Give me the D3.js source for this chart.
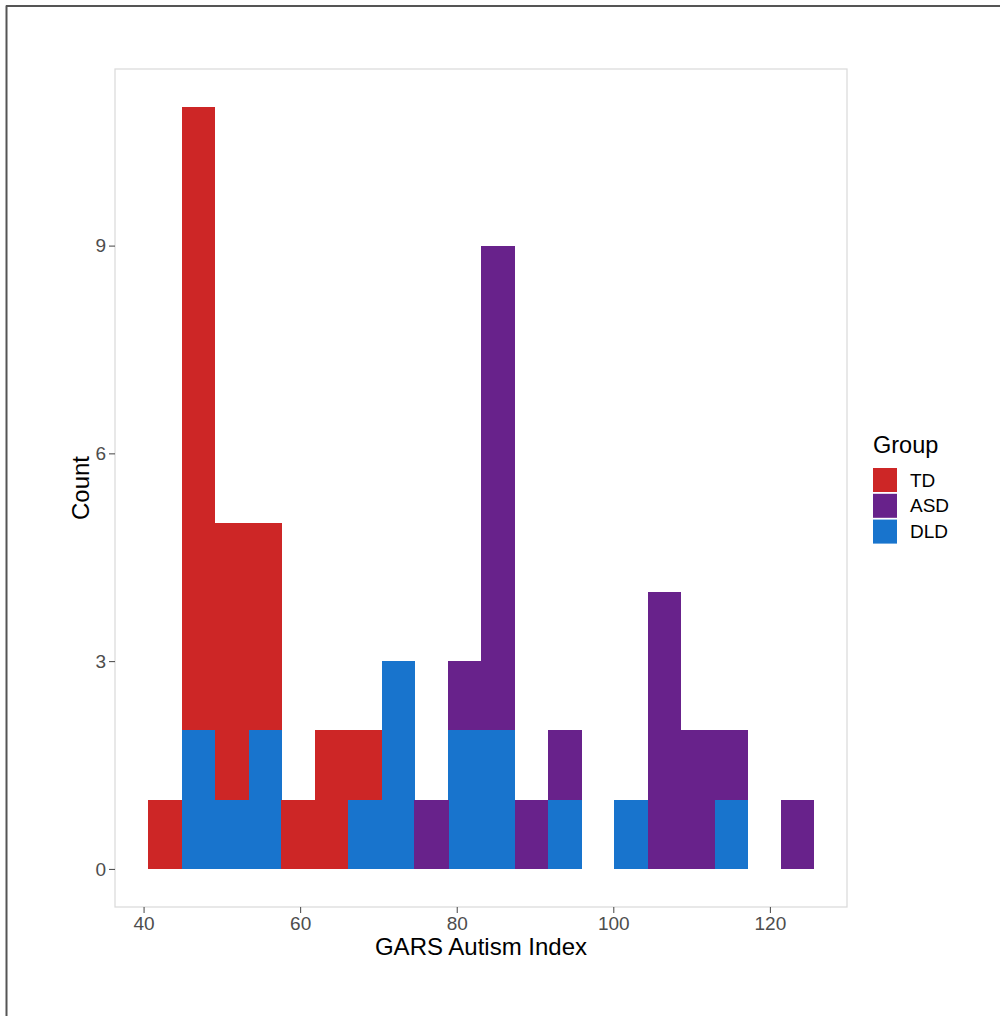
<!DOCTYPE html>
<html>
<head>
<meta charset="utf-8">
<script src="https://cdn.jsdelivr.net/npm/d3@7"></script>
<style>
  body { margin: 0; background: #fff; }
  svg { display: block; font-family: "Liberation Sans", Arial, sans-serif; }
</style>
</head>
<body>
<div id="chart"></div>
<script>
// Histogram bin edges (GARS Autism Index)
var binEdges = [40.6, 44.9, 49.1, 53.4, 57.6, 61.9, 66.1, 70.4, 74.6, 78.9, 83.1,
                87.4, 91.6, 95.9, 100.1, 104.4, 108.6, 112.9, 117.1, 121.4, 125.6];

// Counts per bin for each group
var groups = ["TD", "ASD", "DLD"];
var countsTD  = [1, 9, 4, 3, 1, 2, 1, 0, 0, 0, 0, 0, 0, 0, 0, 0, 0, 0, 0, 0];
var countsASD = [0, 0, 0, 0, 0, 0, 0, 0, 1, 1, 7, 1, 1, 0, 0, 4, 2, 1, 0, 1];
var countsDLD = [0, 2, 1, 2, 0, 0, 1, 3, 0, 2, 2, 0, 1, 0, 1, 0, 0, 1, 0, 0];

var xTicks = [40, 60, 80, 100, 120];
var yTicks = [0, 3, 6, 9];
var colors = { TD: "#CD2626", ASD: "#68228B", DLD: "#1874CD" };

function init() {
    var w = 1000, h = 1016;
    var left = 115, right = 847, top = 69, bottom = 907;

    var svg = d3.select("#chart").append("svg")
        .attr("width", w)
        .attr("height", h);

    // outer frame (left and top edges only)
    svg.append("line").attr("x1", 6.5).attr("y1", 5.5).attr("x2", 6.5).attr("y2", h)
        .attr("stroke", "#555").attr("stroke-width", 2);
    svg.append("line").attr("x1", 6).attr("y1", 6).attr("x2", w).attr("y2", 6)
        .attr("stroke", "#555").attr("stroke-width", 2);

    var lo = binEdges[0], hi = binEdges[binEdges.length - 1];
    var padX = (hi - lo) * 0.05;
    var xScale = d3.scaleLinear().domain([lo - padX, hi + padX]).range([left, right]);
    var yScale = d3.scaleLinear().domain([-0.55, 11.55]).range([bottom, top]);

    // build stacked table: DLD at bottom, ASD middle, TD on top
    var table = binEdges.slice(0, -1).map(function(x0, i) {
        return { x0: x0, x1: binEdges[i + 1], TD: countsTD[i], ASD: countsASD[i], DLD: countsDLD[i] };
    });
    var stack = d3.stack().keys(["DLD", "ASD", "TD"]);
    var series = stack(table);

    // bars
    series.forEach(function(s) {
        svg.append("g").attr("shape-rendering", "crispEdges")
            .selectAll("rect")
            .data(s.filter(function(d) { return d[1] > d[0]; }))
            .enter().append("rect")
            .attr("x", function(d) { return xScale(d.data.x0); })
            .attr("width", function(d) { return xScale(d.data.x1) - xScale(d.data.x0) + 0.5; })
            .attr("y", function(d) { return yScale(d[1]); })
            .attr("height", function(d) { return yScale(d[0]) - yScale(d[1]); })
            .attr("fill", colors[s.key]);
    });

    // panel border
    svg.append("rect").attr("x", left).attr("y", top)
        .attr("width", right - left).attr("height", bottom - top)
        .attr("fill", "none").attr("stroke", "#d9d9d9").attr("stroke-width", 1.2);

    // axes
    var xAxis = d3.axisBottom(xScale).tickValues(xTicks).tickSize(6).tickPadding(4);
    var gx = svg.append("g").attr("transform", "translate(0," + bottom + ")").call(xAxis);
    gx.select(".domain").remove();
    gx.selectAll("line").attr("stroke", "#444");
    gx.selectAll("text").attr("fill", "#4d4d4d").style("font-size", "19px")
        .attr("font-family", "Liberation Sans, Arial, sans-serif");

    var yAxis = d3.axisLeft(yScale).tickValues(yTicks).tickSize(6).tickPadding(3);
    var gy = svg.append("g").attr("transform", "translate(" + left + ",0)").call(yAxis);
    gy.select(".domain").remove();
    gy.selectAll("line").attr("stroke", "#444");
    gy.selectAll("text").attr("fill", "#4d4d4d").style("font-size", "19px")
        .attr("font-family", "Liberation Sans, Arial, sans-serif");

    // axis titles
    svg.append("text")
        .attr("x", (left + right) / 2).attr("y", 955)
        .attr("text-anchor", "middle")
        .style("font-size", "24px")
        .text("GARS Autism Index");

    svg.append("text")
        .attr("transform", "translate(89," + ((top + bottom) / 2) + ") rotate(-90)")
        .attr("text-anchor", "middle")
        .style("font-size", "24px")
        .text("Count");

    // legend
    var legend = svg.append("g").attr("transform", "translate(873,0)");
    legend.append("text").attr("x", 0).attr("y", 453)
        .style("font-size", "23.5px").text("Group");
    groups.forEach(function(g, i) {
        var y0 = 468 + i * 25.8;
        legend.append("rect").attr("x", 0).attr("y", y0)
            .attr("width", 24).attr("height", 24)
            .attr("fill", colors[g]);
        legend.append("text").attr("x", 37).attr("y", y0 + 12)
            .attr("dy", "0.35em")
            .style("font-size", "19px").text(g);
    });
}

window.onload = init;
</script>
</body>
</html>
